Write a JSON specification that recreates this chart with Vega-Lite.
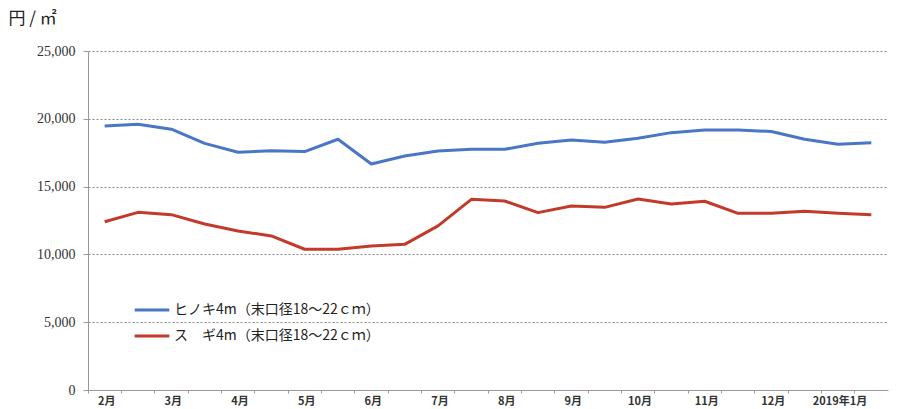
{
  "$schema": "https://vega.github.io/schema/vega-lite/v6.json",
  "width": 800,
  "height": 339,
  "autosize": {"type": "none"},
  "padding": {"left": 88, "top": 51, "right": 9, "bottom": 19},
  "background": "white",
  "config": {"view": {"stroke": null}},
  "data": {
    "values": [
      {"t": "2月|1", "s": "ヒノキ4m（末口径18～22ｃｍ）", "v": 19470},
      {"t": "2月|2", "s": "ヒノキ4m（末口径18～22ｃｍ）", "v": 19600},
      {"t": "3月|1", "s": "ヒノキ4m（末口径18～22ｃｍ）", "v": 19230},
      {"t": "3月|2", "s": "ヒノキ4m（末口径18～22ｃｍ）", "v": 18190},
      {"t": "4月|1", "s": "ヒノキ4m（末口径18～22ｃｍ）", "v": 17530},
      {"t": "4月|2", "s": "ヒノキ4m（末口径18～22ｃｍ）", "v": 17650},
      {"t": "5月|1", "s": "ヒノキ4m（末口径18～22ｃｍ）", "v": 17580},
      {"t": "5月|2", "s": "ヒノキ4m（末口径18～22ｃｍ）", "v": 18490},
      {"t": "6月|1", "s": "ヒノキ4m（末口径18～22ｃｍ）", "v": 16670},
      {"t": "6月|2", "s": "ヒノキ4m（末口径18～22ｃｍ）", "v": 17260},
      {"t": "7月|1", "s": "ヒノキ4m（末口径18～22ｃｍ）", "v": 17630},
      {"t": "7月|2", "s": "ヒノキ4m（末口径18～22ｃｍ）", "v": 17750},
      {"t": "8月|1", "s": "ヒノキ4m（末口径18～22ｃｍ）", "v": 17750},
      {"t": "8月|2", "s": "ヒノキ4m（末口径18～22ｃｍ）", "v": 18190},
      {"t": "9月|1", "s": "ヒノキ4m（末口径18～22ｃｍ）", "v": 18440},
      {"t": "9月|2", "s": "ヒノキ4m（末口径18～22ｃｍ）", "v": 18270},
      {"t": "10月|1", "s": "ヒノキ4m（末口径18～22ｃｍ）", "v": 18560},
      {"t": "10月|2", "s": "ヒノキ4m（末口径18～22ｃｍ）", "v": 18980},
      {"t": "11月|1", "s": "ヒノキ4m（末口径18～22ｃｍ）", "v": 19180},
      {"t": "11月|2", "s": "ヒノキ4m（末口径18～22ｃｍ）", "v": 19180},
      {"t": "12月|1", "s": "ヒノキ4m（末口径18～22ｃｍ）", "v": 19060},
      {"t": "12月|2", "s": "ヒノキ4m（末口径18～22ｃｍ）", "v": 18490},
      {"t": "2019年1月|1", "s": "ヒノキ4m（末口径18～22ｃｍ）", "v": 18120},
      {"t": "2019年1月|2", "s": "ヒノキ4m（末口径18～22ｃｍ）", "v": 18240},
      {"t": "2月|1", "s": "ス　ギ4m（末口径18～22ｃｍ）", "v": 12410},
      {"t": "2月|2", "s": "ス　ギ4m（末口径18～22ｃｍ）", "v": 13100},
      {"t": "3月|1", "s": "ス　ギ4m（末口径18～22ｃｍ）", "v": 12930},
      {"t": "3月|2", "s": "ス　ギ4m（末口径18～22ｃｍ）", "v": 12240},
      {"t": "4月|1", "s": "ス　ギ4m（末口径18～22ｃｍ）", "v": 11730},
      {"t": "4月|2", "s": "ス　ギ4m（末口径18～22ｃｍ）", "v": 11360},
      {"t": "5月|1", "s": "ス　ギ4m（末口径18～22ｃｍ）", "v": 10380},
      {"t": "5月|2", "s": "ス　ギ4m（末口径18～22ｃｍ）", "v": 10380},
      {"t": "6月|1", "s": "ス　ギ4m（末口径18～22ｃｍ）", "v": 10620},
      {"t": "6月|2", "s": "ス　ギ4m（末口径18～22ｃｍ）", "v": 10740},
      {"t": "7月|1", "s": "ス　ギ4m（末口径18～22ｃｍ）", "v": 12100},
      {"t": "7月|2", "s": "ス　ギ4m（末口径18～22ｃｍ）", "v": 14060},
      {"t": "8月|1", "s": "ス　ギ4m（末口径18～22ｃｍ）", "v": 13940},
      {"t": "8月|2", "s": "ス　ギ4m（末口径18～22ｃｍ）", "v": 13080},
      {"t": "9月|1", "s": "ス　ギ4m（末口径18～22ｃｍ）", "v": 13570},
      {"t": "9月|2", "s": "ス　ギ4m（末口径18～22ｃｍ）", "v": 13470},
      {"t": "10月|1", "s": "ス　ギ4m（末口径18～22ｃｍ）", "v": 14090},
      {"t": "10月|2", "s": "ス　ギ4m（末口径18～22ｃｍ）", "v": 13720},
      {"t": "11月|1", "s": "ス　ギ4m（末口径18～22ｃｍ）", "v": 13920},
      {"t": "11月|2", "s": "ス　ギ4m（末口径18～22ｃｍ）", "v": 13030},
      {"t": "12月|1", "s": "ス　ギ4m（末口径18～22ｃｍ）", "v": 13030},
      {"t": "12月|2", "s": "ス　ギ4m（末口径18～22ｃｍ）", "v": 13180},
      {"t": "2019年1月|1", "s": "ス　ギ4m（末口径18～22ｃｍ）", "v": 13030},
      {"t": "2019年1月|2", "s": "ス　ギ4m（末口径18～22ｃｍ）", "v": 12930}
    ]
  },
  "mark": {"type": "line", "strokeWidth": 3, "strokeJoin": "round"},
  "encoding": {
    "x": {
      "field": "t",
      "type": "ordinal",
      "sort": null,
      "scale": {"type": "band", "paddingInner": 0, "paddingOuter": 0},
      "axis": {
        "title": null,
        "bandPosition": 0,
        "labelOffset": 2,
        "labelAngle": 0,
        "labelExpr": "split(datum.value, '|')[1] == '1' ? split(datum.value, '|')[0] : ''",
        "labelFont": "Noto Sans CJK JP",
        "labelFontSize": 11,
        "labelFontWeight": "bold",
        "labelColor": "#333333",
        "labelPadding": 2,
        "domainColor": "#999999",
        "tickColor": "#999999",
        "tickSize": 3,
        "grid": false
      }
    },
    "y": {
      "field": "v",
      "type": "quantitative",
      "scale": {"domain": [0, 25000]},
      "axis": {
        "values": [0, 5000, 10000, 15000, 20000, 25000],
        "format": ",d",
        "title": "円 / ㎡",
        "titleAngle": 0,
        "titleAlign": "left",
        "titleBaseline": "middle",
        "titleX": -80,
        "titleY": -33,
        "titleFont": "Noto Sans CJK JP",
        "titleFontSize": 17,
        "titleFontWeight": "normal",
        "titleColor": "#222222",
        "labelFont": "Liberation Serif",
        "labelFontSize": 14,
        "labelColor": "#333333",
        "labelPadding": 8,
        "domainColor": "#999999",
        "ticks": true,
        "tickSize": 5,
        "tickColor": "#999999",
        "grid": true,
        "gridColor": "#888888",
        "gridDash": [2, 2],
        "gridWidth": 1
      }
    },
    "color": {
      "field": "s",
      "type": "nominal",
      "sort": null,
      "scale": {
        "domain": ["ヒノキ4m（末口径18～22ｃｍ）", "ス　ギ4m（末口径18～22ｃｍ）"],
        "range": ["#4a76c6", "#c23b2a"]
      },
      "legend": {
        "title": null,
        "orient": "none",
        "legendX": 45,
        "legendY": 240,
        "symbolType": "stroke",
        "symbolSize": 1200,
        "symbolStrokeWidth": 3,
        "labelFont": "Noto Sans CJK JP",
        "labelFontSize": 14,
        "labelOffset": 3,
        "labelColor": "#222222",
        "labelLimit": 400,
        "rowPadding": 0
      }
    }
  }
}
